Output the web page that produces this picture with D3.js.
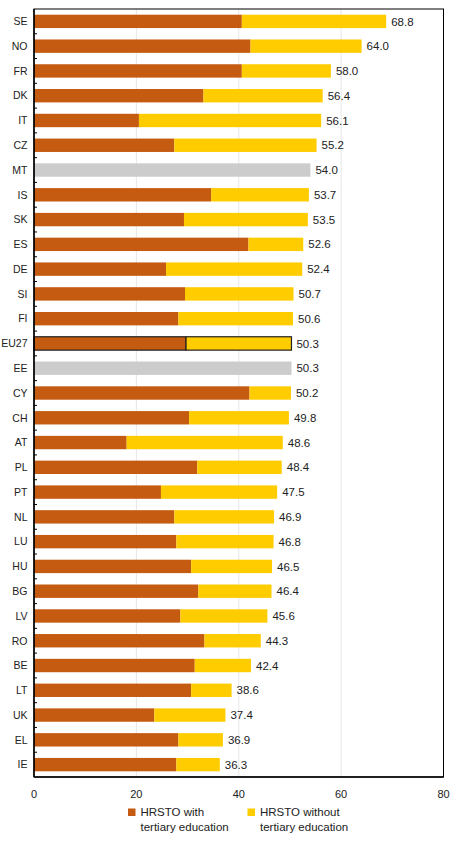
<!DOCTYPE html>
<html>
<head>
<meta charset="utf-8">
<script src="https://cdn.jsdelivr.net/npm/d3@7/dist/d3.min.js"></script>
<style>
  html, body { margin: 0; padding: 0; background: #fff; }
  svg { display: block; font-family: "Liberation Sans", Arial, sans-serif; }
</style>
</head>
<body>
<svg id="chart" width="450" height="854"></svg>
<script>
const categories = ["SE","NO","FR","DK","IT","CZ","MT","IS","SK","ES","DE","SI","FI","EU27","EE","CY","CH","AT","PL","PT","NL","LU","HU","BG","LV","RO","BE","LT","UK","EL","IE"];
const totals =     [68.8,64.0,58.0,56.4,56.1,55.2,54.0,53.7,53.5,52.6,52.4,50.7,50.6,50.3,50.3,50.2,49.8,48.6,48.4,47.5,46.9,46.8,46.5,46.4,45.6,44.3,42.4,38.6,37.4,36.9,36.3];
const withTertiary = [40.6,42.3,40.6,33.1,20.5,27.4,null,34.6,29.3,41.9,25.8,29.5,28.2,29.7,null,42.1,30.3,18.1,31.9,24.8,27.4,27.8,30.7,32.1,28.6,33.3,31.4,30.7,23.5,28.2,27.8];
const xTicks = [0,20,40,60,80];
const seriesNames = ["HRSTO with|tertiary education","HRSTO without|tertiary education"];
const highlight = "EU27";

const colWith = "#C55A11", colWithout = "#FFCC00", colTotalOnly = "#CCCCCC";

const svg = d3.select("#chart");
const L = 34, R = 443.5, T = 9, B = 777;

const x = d3.scaleLinear().domain([0, 80]).range([L, R]);
const y = d3.scaleBand().domain(categories).range([T, B]).paddingInner(0.46).paddingOuter(0.23);

const rows = categories.map((c, i) => ({ c, total: totals[i], w: withTertiary[i] }));

// gridlines
svg.append("g").selectAll("line").data(xTicks.filter(t => t > 0 && t < 80)).join("line")
  .attr("x1", d => x(d)).attr("x2", d => x(d)).attr("y1", T).attr("y2", B)
  .attr("stroke", "#e6e6e6").attr("stroke-width", 1);

// bars
const g = svg.append("g");
rows.forEach(r => {
  const hl = r.c === highlight;
  if (r.w == null) {
    g.append("rect").attr("x", x(0)).attr("y", y(r.c)).attr("width", x(r.total) - x(0)).attr("height", y.bandwidth())
      .attr("fill", colTotalOnly);
  } else {
    g.append("rect").attr("x", x(0)).attr("y", y(r.c)).attr("width", x(r.w) - x(0)).attr("height", y.bandwidth())
      .attr("fill", colWith).attr("stroke", hl ? "#222" : "none").attr("stroke-width", hl ? 1.2 : 0);
    g.append("rect").attr("x", x(r.w)).attr("y", y(r.c)).attr("width", x(r.total) - x(r.w)).attr("height", y.bandwidth())
      .attr("fill", colWithout).attr("stroke", hl ? "#222" : "none").attr("stroke-width", hl ? 1.2 : 0);
  }
  g.append("text").attr("x", x(r.total) + 5).attr("y", y(r.c) + y.bandwidth() / 2)
    .attr("dy", "0.36em").attr("font-size", "11.5px").attr("fill", "#222")
    .text(r.total.toFixed(1));
});

// frame
svg.append("rect").attr("x", L).attr("y", T).attr("width", R - L).attr("height", B - T)
  .attr("fill", "none").attr("stroke", "#000").attr("stroke-width", 1);
svg.append("line").attr("x1", L).attr("x2", L).attr("y1", T).attr("y2", B).attr("stroke", "#000").attr("stroke-width", 1.5);
svg.append("line").attr("x1", L).attr("x2", R).attr("y1", B).attr("y2", B).attr("stroke", "#000").attr("stroke-width", 1.5);

// y axis labels and boundary ticks
svg.append("g").selectAll("text").data(categories).join("text")
  .attr("x", 27.5).attr("y", d => y(d) + y.bandwidth() / 2).attr("dy", "0.36em")
  .attr("text-anchor", "end").attr("font-size", "10.5px").attr("fill", "#222")
  .text(d => d);
const step = y.step();
svg.append("g").selectAll("line").data(d3.range(1, categories.length)).join("line")
  .attr("x1", L).attr("x2", L + 3).attr("y1", i => T + i * step).attr("y2", i => T + i * step)
  .attr("stroke", "#000").attr("stroke-width", 1);

// x axis labels
svg.append("g").selectAll("text").data(xTicks).join("text")
  .attr("x", d => x(d)).attr("y", 798).attr("text-anchor", "middle")
  .attr("font-size", "11px").attr("fill", "#222").text(d => d);

// legend
const legend = [{ x: 128, c: colWith, name: seriesNames[0] }, { x: 247.5, c: colWithout, name: seriesNames[1] }];
legend.forEach(l => {
  svg.append("rect").attr("x", l.x).attr("y", 808.5).attr("width", 7.5).attr("height", 7.5).attr("fill", l.c);
  const parts = l.name.split("|");
  const t = svg.append("text").attr("font-size", "11.5px").attr("fill", "#222");
  t.append("tspan").attr("x", l.x + 12.5).attr("y", 815.5).text(parts[0]);
  t.append("tspan").attr("x", l.x + 12.5).attr("y", 831).text(parts[1]);
});
</script>
</body>
</html>
